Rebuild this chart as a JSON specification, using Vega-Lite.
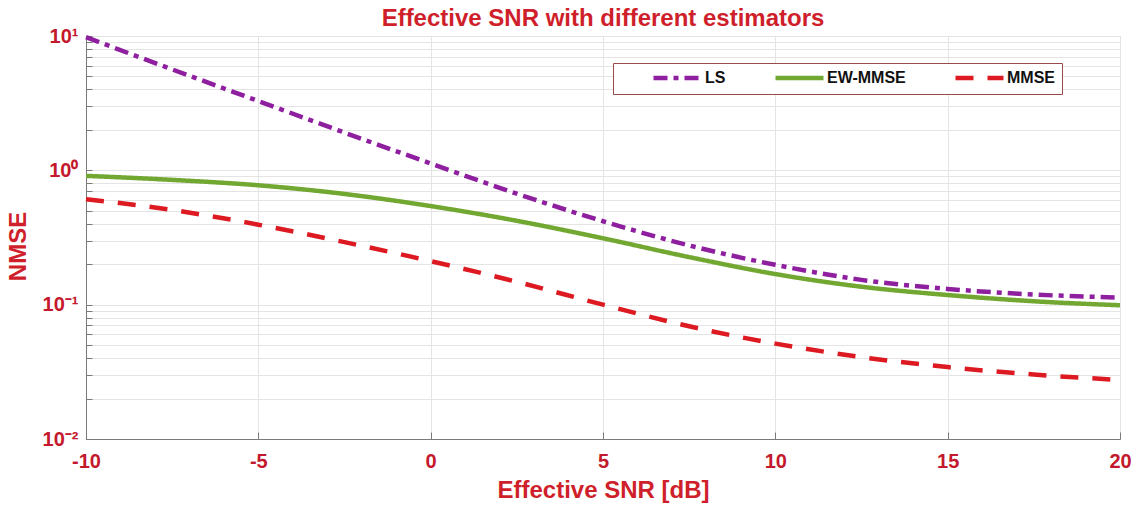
{
  "$schema": "https://vega.github.io/schema/vega-lite/v6.json",
  "width": 1034,
  "height": 403,
  "autosize": {"type": "none"},
  "padding": {"left": 86, "top": 36, "right": 24, "bottom": 69},
  "background": "white",
  "config": {
    "view": {"stroke": "#9a9a9a", "strokeWidth": 1},
    "font": "Liberation Sans"
  },
  "title": {
    "text": "Effective SNR with different estimators",
    "font": "Liberation Sans",
    "fontSize": 24,
    "fontWeight": "bold",
    "color": "#cf1f2b",
    "offset": -5,
    "anchor": "middle"
  },
  "data": {
    "values": [
      {"snr": -10, "nmse": 9.8, "estimator": "LS"},
      {"snr": -7.5, "nmse": 5.64, "estimator": "LS"},
      {"snr": -5, "nmse": 3.28, "estimator": "LS"},
      {"snr": -2.5, "nmse": 1.91, "estimator": "LS"},
      {"snr": 0, "nmse": 1.125, "estimator": "LS"},
      {"snr": 2.5, "nmse": 0.67, "estimator": "LS"},
      {"snr": 5, "nmse": 0.418, "estimator": "LS"},
      {"snr": 7.5, "nmse": 0.276, "estimator": "LS"},
      {"snr": 10, "nmse": 0.198, "estimator": "LS"},
      {"snr": 12.5, "nmse": 0.153, "estimator": "LS"},
      {"snr": 15, "nmse": 0.131, "estimator": "LS"},
      {"snr": 17.5, "nmse": 0.119, "estimator": "LS"},
      {"snr": 20, "nmse": 0.113, "estimator": "LS"},
      {"snr": -10, "nmse": 0.91, "estimator": "EW-MMSE"},
      {"snr": -7.5, "nmse": 0.849, "estimator": "EW-MMSE"},
      {"snr": -5, "nmse": 0.774, "estimator": "EW-MMSE"},
      {"snr": -2.5, "nmse": 0.667, "estimator": "EW-MMSE"},
      {"snr": 0, "nmse": 0.542, "estimator": "EW-MMSE"},
      {"snr": 2.5, "nmse": 0.421, "estimator": "EW-MMSE"},
      {"snr": 5, "nmse": 0.312, "estimator": "EW-MMSE"},
      {"snr": 7.5, "nmse": 0.226, "estimator": "EW-MMSE"},
      {"snr": 10, "nmse": 0.169, "estimator": "EW-MMSE"},
      {"snr": 12.5, "nmse": 0.136, "estimator": "EW-MMSE"},
      {"snr": 15, "nmse": 0.118, "estimator": "EW-MMSE"},
      {"snr": 17.5, "nmse": 0.106, "estimator": "EW-MMSE"},
      {"snr": 20, "nmse": 0.099, "estimator": "EW-MMSE"},
      {"snr": -10, "nmse": 0.61, "estimator": "MMSE"},
      {"snr": -7.5, "nmse": 0.507, "estimator": "MMSE"},
      {"snr": -5, "nmse": 0.394, "estimator": "MMSE"},
      {"snr": -2.5, "nmse": 0.292, "estimator": "MMSE"},
      {"snr": 0, "nmse": 0.211, "estimator": "MMSE"},
      {"snr": 2.5, "nmse": 0.148, "estimator": "MMSE"},
      {"snr": 5, "nmse": 0.1, "estimator": "MMSE"},
      {"snr": 7.5, "nmse": 0.069, "estimator": "MMSE"},
      {"snr": 10, "nmse": 0.0513, "estimator": "MMSE"},
      {"snr": 12.5, "nmse": 0.0407, "estimator": "MMSE"},
      {"snr": 15, "nmse": 0.0343, "estimator": "MMSE"},
      {"snr": 17.5, "nmse": 0.0302, "estimator": "MMSE"},
      {"snr": 20, "nmse": 0.0275, "estimator": "MMSE"}
    ]
  },
  "mark": {"type": "line", "interpolate": "monotone", "strokeWidth": 4.5, "clip": false},
  "encoding": {
    "x": {
      "field": "snr",
      "type": "quantitative",
      "scale": {"domain": [-10, 20], "nice": false, "zero": false},
      "axis": {
        "title": "Effective SNR [dB]",
        "values": [-10, -5, 0, 5, 10, 15, 20],
        "labelExpr": "toString(datum.value)",
        "labelFont": "Liberation Sans",
        "labelFontSize": 20,
        "labelFontWeight": "bold",
        "labelColor": "#c4182c",
        "labelFlush": false,
        "labelPadding": 19,
        "titleFont": "Liberation Sans",
        "titleFontSize": 24,
        "titleFontWeight": "bold",
        "titleColor": "#cf1f2b",
        "titlePadding": 7,
        "grid": true,
        "gridColor": "#e4e4e4",
        "domainColor": "#7a7a7a",
        "tickColor": "#7a7a7a",
        "tickSize": -7
      }
    },
    "y": {
      "field": "nmse",
      "type": "quantitative",
      "scale": {"type": "log", "domain": [0.01, 10], "nice": false},
      "axis": {
        "title": "NMSE",
        "titleY": 210,
        "values": [0.01, 0.02, 0.03, 0.04, 0.05, 0.06, 0.07, 0.08, 0.09, 0.1, 0.2, 0.3, 0.4, 0.5, 0.6, 0.7, 0.8, 0.9, 1, 2, 3, 4, 5, 6, 7, 8, 9, 10],
        "labelExpr": "datum.value == 10 ? '10¹' : datum.value == 1 ? '10⁰' : datum.value == 0.1 ? '10⁻¹' : datum.value == 0.01 ? '10⁻²' : ''",
        "labelFont": "Liberation Sans",
        "labelFontSize": 20,
        "labelFontWeight": "bold",
        "labelColor": "#c4182c",
        "labelFlush": false,
        "labelOverlap": false,
        "labelPadding": 14,
        "titleFont": "Liberation Sans",
        "titleFontSize": 24,
        "titleFontWeight": "bold",
        "titleColor": "#cf1f2b",
        "titlePadding": 12,
        "grid": true,
        "gridColor": "#e4e4e4",
        "domainColor": "#7a7a7a",
        "tickColor": "#7a7a7a",
        "tickSize": -6
      }
    },
    "color": {
      "field": "estimator",
      "type": "nominal",
      "scale": {"domain": ["LS", "EW-MMSE", "MMSE"], "range": ["#8e1f9e", "#72a832", "#dd1a22"]},
      "legend": {
        "title": null,
        "orient": "none",
        "legendX": 527,
        "legendY": 27,
        "direction": "horizontal",
        "strokeColor": "#9a4a4a",
        "fillColor": "white",
        "padding": 7,
        "symbolType": "M-4.8,0H4.8",
        "symbolSize": 100,
        "symbolStrokeWidth": 4.5,
        "symbolOffset": 49.5,
        "labelOffset": 19.5,
        "labelFont": "Liberation Sans",
        "labelFontSize": 16,
        "labelFontWeight": "bold",
        "labelColor": "#111111",
        "columnPadding": 16
      }
    },
    "strokeDash": {
      "field": "estimator",
      "type": "nominal",
      "scale": {"domain": ["LS", "EW-MMSE", "MMSE"], "range": [[14, 6, 5, 6], [1, 0], [18, 14]]}
    }
  }
}
